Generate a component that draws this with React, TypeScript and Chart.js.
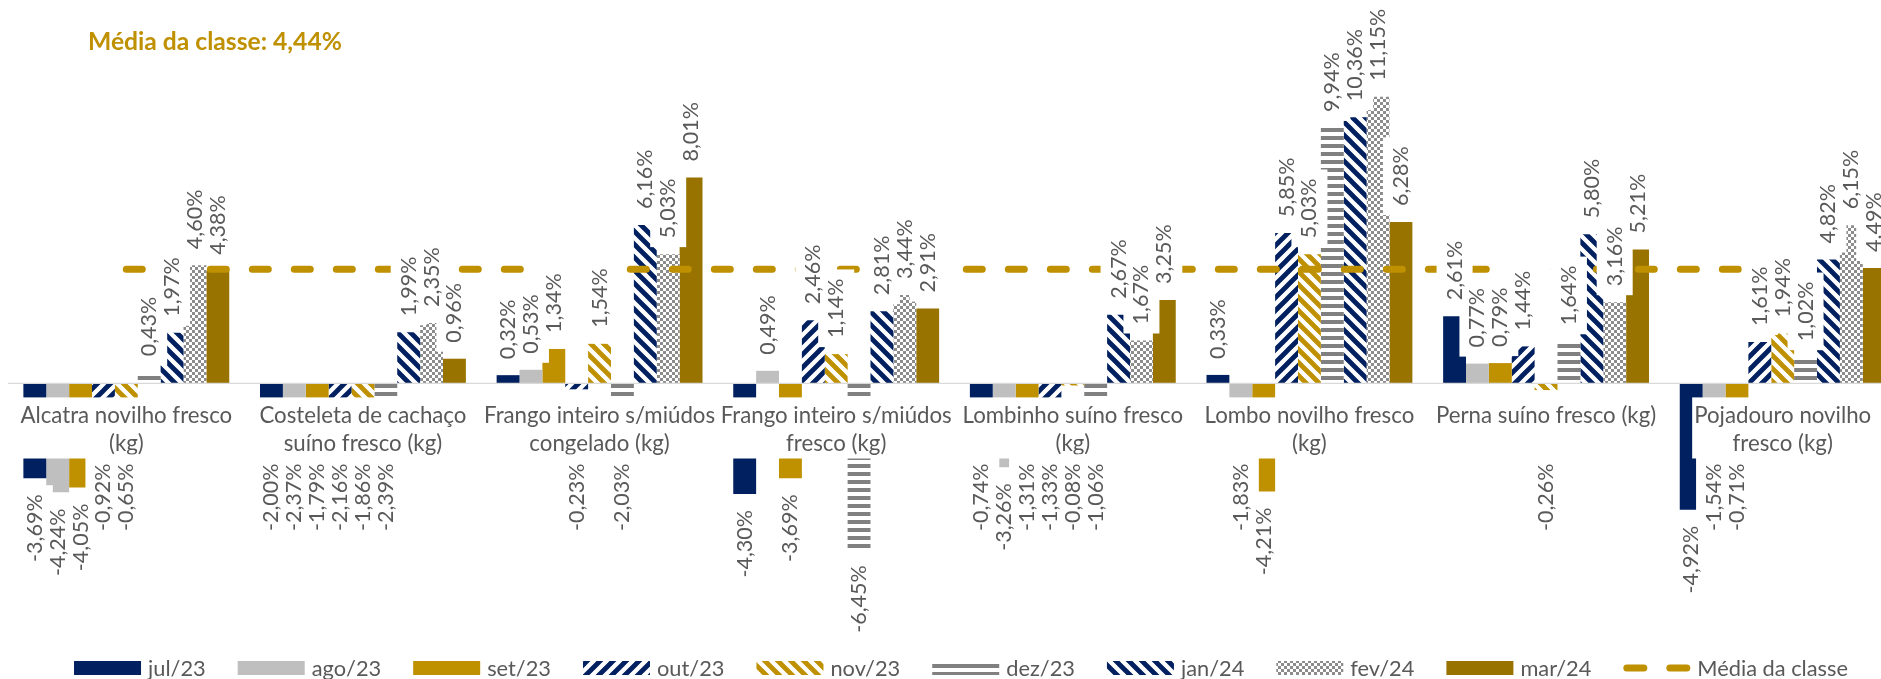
import React, { useEffect, useRef } from 'react';
import { Chart, registerables } from 'chart.js';

Chart.register(...registerables);

// ---------- data ----------
const categories: string[][] = [
  ['Alcatra novilho fresco', '(kg)'],
  ['Costeleta de cachaço', 'suíno fresco (kg)'],
  ['Frango inteiro s/miúdos', 'congelado (kg)'],
  ['Frango inteiro s/miúdos', 'fresco (kg)'],
  ['Lombinho suíno fresco', '(kg)'],
  ['Lombo novilho fresco', '(kg)'],
  ['Perna suíno fresco (kg)'],
  ['Pojadouro novilho', 'fresco (kg)'],
];
const seriesNames = ['jul/23', 'ago/23', 'set/23', 'out/23', 'nov/23', 'dez/23', 'jan/24', 'fev/24', 'mar/24'];
const jul23 = [-3.69, -2.0, 0.32, -4.3, -0.74, 0.33, 2.61, -4.92];
const ago23 = [-4.24, -2.37, 0.53, 0.49, -3.26, -1.83, 0.77, -1.54];
const set23 = [-4.05, -1.79, 1.34, -3.69, -1.31, -4.21, 0.79, -0.71];
const out23 = [-0.92, -2.16, -0.23, 2.46, -1.33, 5.85, 1.44, 1.61];
const nov23 = [-0.65, -1.86, 1.54, 1.14, -0.08, 5.03, -0.26, 1.94];
const dez23 = [0.43, -2.39, -2.03, -6.45, -1.06, 9.94, 1.64, 1.02];
const jan24 = [1.97, 1.99, 6.16, 2.81, 2.67, 10.36, 5.8, 4.82];
const fev24 = [4.6, 2.35, 5.03, 3.44, 1.67, 11.15, 3.16, 6.15];
const mar24 = [4.38, 0.96, 8.01, 2.91, 3.25, 6.28, 5.21, 4.49];
const seriesValues = [jul23, ago23, set23, out23, nov23, dez23, jan24, fev24, mar24];
const mediaClasse = 4.44;
const mediaLabel = 'Média da classe';

// ---------- style ----------
const NAVY = '#002060';
const LGRAY = '#BFBFBF';
const GOLD = '#BF9000';
const DGOLD = '#997300';
const GRAY = '#808080';
const TEXT = '#595959';
const FONT = 'Lato, "Open Sans", sans-serif';

const fmt = (v: number) => v.toFixed(2).replace('.', ',') + '%';

function tile(s: number, draw: (g: CanvasRenderingContext2D) => void) {
  const c = document.createElement('canvas');
  c.width = s;
  c.height = s;
  const g = c.getContext('2d')!;
  g.fillStyle = '#ffffff';
  g.fillRect(0, 0, s, s);
  draw(g);
  return c;
}

function diag(ctx: CanvasRenderingContext2D, color: string, up: boolean) {
  const s = 13;
  const c = tile(s, (g) => {
    g.strokeStyle = color;
    g.lineWidth = 4.8;
    g.beginPath();
    for (const o of [-s, 0, s]) {
      if (up) {
        g.moveTo(o - s, 2 * s);
        g.lineTo(o + 2 * s, -s);
      } else {
        g.moveTo(o - s, -s);
        g.lineTo(o + 2 * s, 2 * s);
      }
    }
    g.stroke();
  });
  return ctx.createPattern(c, 'repeat')!;
}

function horiz(ctx: CanvasRenderingContext2D) {
  const c = tile(8, (g) => {
    g.fillStyle = GRAY;
    g.fillRect(0, 0, 8, 4);
  });
  return ctx.createPattern(c, 'repeat')!;
}

function checker(ctx: CanvasRenderingContext2D) {
  const c = tile(6, (g) => {
    g.fillStyle = '#8C8C8C';
    g.fillRect(0, 0, 3, 3);
    g.fillRect(3, 3, 3, 3);
  });
  return ctx.createPattern(c, 'repeat')!;
}

function fitSize(ctx: CanvasRenderingContext2D, text: string, target: number, weight = '400') {
  ctx.save();
  ctx.font = `${weight} 100px ${FONT}`;
  const w = ctx.measureText(text).width;
  ctx.restore();
  return (100 * target) / w;
}

const overlayPlugin = {
  id: 'overlay',
  afterDatasetsDraw(chart: any) {
    const ctx: CanvasRenderingContext2D = chart.ctx;
    const xs = chart.scales.x;
    const ys = chart.scales.y;
    const area = chart.chartArea;
    const y0 = ys.getPixelForValue(0);
    ctx.save();
    // zero axis line
    ctx.strokeStyle = '#D9D9D9';
    ctx.lineWidth = 1.2;
    ctx.beginPath();
    ctx.moveTo(area.left, y0);
    ctx.lineTo(area.right, y0);
    ctx.stroke();

    // category labels (with white boxes)
    const catSize = fitSize(ctx, 'Alcatra novilho fresco', 212);
    ctx.font = `400 ${catSize}px ${FONT}`;
    const lineGap = 27.6;
    const firstLine = y0 + 32.5;
    const cats = categories.map((lines, i) => ({
      cx: xs.getPixelForValue(i),
      w: Math.max(...lines.map((l) => ctx.measureText(l).width)),
      lines,
    }));
    ctx.fillStyle = '#ffffff';
    cats.forEach((c) => {
      const top = y0 + 14;
      const bottom = firstLine + (c.lines.length - 1) * lineGap + 15;
      ctx.fillRect(c.cx - c.w / 2 - 2, top, c.w + 4, bottom - top);
    });
    ctx.fillStyle = TEXT;
    ctx.textAlign = 'center';
    ctx.textBaseline = 'middle';
    cats.forEach((c) => c.lines.forEach((l, j) => ctx.fillText(l, c.cx, firstLine + j * lineGap)));

    // data labels
    const labSize = fitSize(ctx, '4,60%', 59.7);
    ctx.font = `400 ${labSize}px ${FONT}`;
    const minNegTop = y0 + 80;
    const labels: { x: number; start: number; neg: boolean; text: string; w: number }[] = [];
    chart.data.datasets.forEach((ds: any, di: number) => {
      if (ds.type === 'line') return;
      const meta = chart.getDatasetMeta(di);
      meta.data.forEach((el: any, i: number) => {
        const v = ds.data[i] as number;
        const text = fmt(v);
        const w = ctx.measureText(text).width;
        const end = ys.getPixelForValue(v);
        if (v >= 0) labels.push({ x: el.x, start: end - 16, neg: false, text, w });
        else labels.push({ x: el.x, start: Math.max(end + 16, minNegTop), neg: true, text, w });
      });
    });
    ctx.fillStyle = '#ffffff';
    labels.forEach((l) => {
      if (l.neg) ctx.fillRect(l.x - 18, l.start - 9, 36, l.w + 18);
      else ctx.fillRect(l.x - 18, l.start - l.w - 9, 36, l.w + 18);
    });
    ctx.fillStyle = TEXT;
    ctx.textBaseline = 'middle';
    labels.forEach((l) => {
      ctx.save();
      ctx.translate(l.x, l.start);
      ctx.rotate(-Math.PI / 2);
      ctx.textAlign = l.neg ? 'right' : 'left';
      ctx.fillText(l.text, 0, 0);
      ctx.restore();
    });
    ctx.restore();
  },
  afterDraw(chart: any) {
    const ctx: CanvasRenderingContext2D = chart.ctx;
    ctx.save();
    // title
    const title = `${mediaLabel}: ${fmt(mediaClasse)}`;
    const tSize = fitSize(ctx, title, 254, '700');
    ctx.font = `700 ${tSize}px ${FONT}`;
    ctx.fillStyle = GOLD;
    ctx.textAlign = 'left';
    ctx.textBaseline = 'alphabetic';
    ctx.fillText(title, 88, 50);

    // legend
    const lSize = fitSize(ctx, 'jul/23', 57.7);
    ctx.font = `400 ${lSize}px ${FONT}`;
    const items = chart.data.datasets.map((ds: any) => ({
      label: ds.label,
      ds,
      tw: ctx.measureText(ds.label).width,
    }));
    const order = [...items.filter((it: any) => it.ds.type !== 'line'), ...items.filter((it: any) => it.ds.type === 'line')];
    const sw = 67;
    const gap = 7;
    const spacing = 32;
    const total = order.reduce((s: number, it: any) => s + sw + gap + it.tw, 0) + spacing * (order.length - 1);
    let x = 961 - total / 2;
    const cy = 668;
    order.forEach((it: any) => {
      if (it.ds.type === 'line') {
        ctx.save();
        ctx.strokeStyle = it.ds.borderColor;
        ctx.lineWidth = 7;
        ctx.lineCap = 'round';
        ctx.setLineDash([17, 26]);
        ctx.beginPath();
        ctx.moveTo(x + 3.5, cy);
        ctx.lineTo(x + sw - 3.5, cy);
        ctx.stroke();
        ctx.restore();
      } else {
        ctx.fillStyle = it.ds.backgroundColor;
        ctx.fillRect(x, cy - 7, sw, 14);
      }
      ctx.fillStyle = TEXT;
      ctx.textBaseline = 'middle';
      ctx.textAlign = 'left';
      ctx.fillText(it.label, x + sw + gap, cy + 1);
      x += sw + gap + it.tw + spacing;
    });
    ctx.restore();
  },
};

export default function App() {
  const ref = useRef<HTMLCanvasElement | null>(null);
  useEffect(() => {
    let chart: Chart | null = null;
    let cancelled = false;
    const build = () => {
      if (cancelled || !ref.current) return;
      const ctx = ref.current.getContext('2d')!;
      const fills: any[] = [
        NAVY,
        LGRAY,
        GOLD,
        diag(ctx, NAVY, true),
        diag(ctx, GOLD, false),
        horiz(ctx),
        diag(ctx, NAVY, false),
        checker(ctx),
        DGOLD,
      ];
      const barSets = seriesNames.map((name, i) => ({
        type: 'bar' as const,
        label: name,
        data: seriesValues[i],
        backgroundColor: fills[i],
        borderWidth: 0,
        order: 1,
        categoryPercentage: 0.87,
        barPercentage: 1,
      }));
      const lineSet = {
        type: 'line' as const,
        label: mediaLabel,
        data: categories.map(() => mediaClasse),
        borderColor: GOLD,
        backgroundColor: GOLD,
        borderWidth: 7,
        borderDash: [16, 26],
        borderCapStyle: 'round' as const,
        pointRadius: 0,
        fill: false,
        order: 0,
      };
      chart = new Chart(ctx, {
        data: {
          labels: categories.map((c) => c.join(' ')),
          datasets: [...barSets, lineSet] as any,
        },
        options: {
          responsive: false,
          animation: false,
          devicePixelRatio: 1,
          layout: { padding: { left: 8, right: 0, top: 75, bottom: 90 } },
          plugins: {
            legend: { display: false },
            tooltip: { enabled: false },
            title: { display: false },
          },
          scales: {
            x: { display: false, offset: true, grid: { display: false } },
            y: { display: false, min: -8, max: 12 },
          },
        },
        plugins: [overlayPlugin],
      });
    };
    const fontsApi = (document as any).fonts;
    if (fontsApi && fontsApi.load) {
      Promise.all([
        fontsApi.load(`400 24px Lato`),
        fontsApi.load(`700 24px Lato`),
      ]).then(build, build);
    } else build();
    return () => {
      cancelled = true;
      if (chart) chart.destroy();
    };
  }, []);
  return (
    <div style={{ position: 'absolute', left: 0, top: 0, width: 1881, height: 679, overflow: 'hidden', background: '#fff' }}>
      <canvas ref={ref} width={1901} height={679} style={{ position: 'absolute', left: 0, top: 0, width: 1901, height: 679 }} />
    </div>
  );
}
